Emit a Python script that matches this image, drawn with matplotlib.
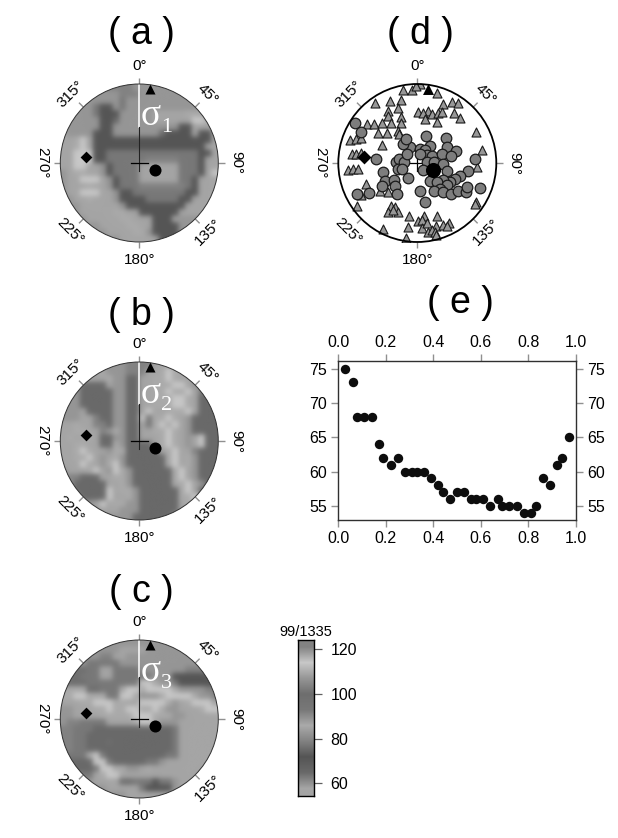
import numpy as np
import matplotlib
matplotlib.use('Agg')
import matplotlib.pyplot as plt
from matplotlib.colors import ListedColormap, Normalize
from matplotlib.patches import Circle

plt.rcParams['font.family'] = ['Liberation Sans', 'DejaVu Sans']

W, H = 618, 838
NET = 238  # net radius in reading units

# colour scale: one grey per band, bottom to top
BAND_GREYS = [165, 105, 85, 130, 170, 120, 110, 150, 200, 130]
BAR_MIN, BAR_MAX = 54.2, 124.2
BAR_TICKS = [60, 80, 100, 120]

# velocity maps, each digit is a band of the colour scale
MAP_A = """
777777 733337 777777 777777
777777 777333 777777 777777
777777 777577 777777 777777
777775 227577 777777 777777
777775 222777 770000 044077
777777 221777 770000 008840
777777 227777 777777 220000
077772 227777 777622 220220
004802 222222 222222 222220
004802 222222 222222 222200
008882 255555 555555 555220
008882 255555 533333 555200
008800 725555 000000 555200
704400 725555 000000 555208
700888 072555 000000 552000
700040 072555 333333 352000
700888 007225 555555 522000
770040 007222 255555 220000
777000 000722 222222 200000
777000 004400 222222 000000
777700 000440 002220 777777
777777 000044 002222 777777
777777 700004 472222 777777
777777 777000 000222 777777
"""

MAP_B = """
777777 777733 330044 000777
777700 477733 300484 007777
777000 047711 004484 007777
777111 107711 004448 807755
777111 117711 004484 480551
777111 117711 004448 840111
777111 117711 004448 840111
777011 117711 080044 480111
777003 117711 854484 071111
004003 317711 054848 071111
004400 374711 004484 071111
040040 117711 000484 070811
004400 114711 110484 070811
004840 074411 111048 003111
004480 704711 111148 047111
000840 748711 111148 047111
700048 078471 111114 807111
733111 004471 111114 807111
771111 100471 111114 480711
771111 180447 111111 480117
777111 180047 111111 448077
777770 804477 111111 048077
777777 000777 111111 007777
777777 777771 111110 077777
"""

MAP_C = """
777777 777777 777777 777777
777777 777000 077777 777777
777777 330077 777777 777777
777755 555777 777777 777777
776655 005555 777777 733377
766555 005555 557772 222227
666655 555555 884775 222222
444466 555488 488884 777733
448844 455884 777488 884773
000448 884400 888847 048880
770004 484488 448477 000488
770000 444448 884447 700000
733555 500004 884777 000000
335551 111111 111115 000000
335511 111111 111115 000000
335511 161111 111115 000000
335511 111111 111115 000000
555548 511111 111155 000000
511118 851111 155700 000000
551115 884477 040000 000000
775550 488000 000000 000077
777770 000665 552557 000777
777777 700000 522227 007777
777777 777700 000000 077777
"""

# fixed symbols on the nets
TRI_XY = (32, 223)
DOT_XY = (48, -21)
DIA_XY = (-160, 18)

# panel d, stations
CIRCLE_X = [75, 92, 80, 117, 138, 158, 165, 155, 193, 195, 200, 235, 198, 207, 222, 205, 215,
            240, 218, 232, 228, 270, 288, 348, 300, 285, 290, 270, 305, 352, 336, 378, 365,
            290, 312, 340, 280, 350, 435, 415, 392, 375, 360, 340, 300, 320, 350, 330, 312,
            338, 365, 385, 408, 412, 450, 270, 285]
CIRCLE_Y = [216, 245, 432, 428, 327, 366, 392, 408, 388, 408, 430, 384, 335, 327, 335, 357, 355,
            290, 280, 310, 265, 297, 258, 262, 288, 300, 315, 310, 318, 290, 310, 303, 318,
            335, 335, 340, 360, 363, 325, 362, 376, 385, 395, 390, 392, 395, 405, 415, 423,
            425, 430, 422, 425, 410, 412, 423, 455]
TRIANGLE_X = [218, 245, 270, 258, 320, 135, 180, 212, 175, 205, 212, 175, 338, 368, 385, 372,
              390, 265, 295, 278, 305, 285, 325, 322, 335, 110, 133, 157, 182, 212, 145, 170,
              205, 60, 78, 93, 155, 207, 65, 78, 92, 52, 68, 82, 438, 458, 443, 107, 93, 150,
              175, 80, 182, 195, 175, 203, 188, 438, 436, 237, 322, 282, 265, 275, 158, 235,
              275, 290, 318, 340, 358, 350, 295, 305, 315, 228, 318]
TRIANGLE_Y = [118, 118, 100, 105, 127, 158, 152, 148, 180, 172, 198, 197, 160, 153, 157, 186,
              202, 185, 182, 188, 190, 205, 188, 215, 185, 222, 222, 218, 218, 218, 248, 248,
              243, 268, 265, 263, 283, 250, 310, 310, 308, 358, 356, 355, 246, 300, 350, 400,
              435, 423, 425, 467, 468, 470, 485, 485, 480, 455, 462, 498, 497, 497, 512, 510,
              537, 532, 535, 520, 527, 525, 518, 528, 545, 540, 545, 563, 555]
CIRCLE_CX, CIRCLE_CY = 262, 338

# panel e
RATIO = [.03, .06, .08, .11, .14, .17, .19, .22, .25, .28, .31, .33, .36, .39, .42, .44, .47, .50,
         .53, .56, .58, .61, .64, .67, .69, .72, .75, .78, .81, .83, .86, .89, .92, .94, .97]
MISFIT = [75, 73, 68, 68, 68, 64, 62, 61, 62, 60, 60, 60, 60, 59, 58, 57, 56, 57,
          57, 56, 56, 56, 55, 56, 55, 55, 55, 54, 54, 55, 59, 58, 61, 62, 65]

AZIMUTHS = [0, 45, 90, 135, 180, 225, 270, 315]
AZ_ROT = [0, -45, -90, 45, 0, -45, -90, 45]

cmap = ListedColormap([(g / 255, g / 255, g / 255) for g in BAND_GREYS])
norm = Normalize(BAR_MIN, BAR_MAX)


def px_axes(fig, left, top, w, h):
    return fig.add_axes([left / W, 1 - (top + h) / H, w / W, h / H])


def decode(text):
    rows = [r.replace(' ', '') for r in text.strip().splitlines()]
    digits = np.array([[int(c) for c in r] for r in rows])
    return BAR_MIN + (digits + 0.5) * (BAR_MAX - BAR_MIN) / len(BAND_GREYS)


def net_frame(ax, lw=0.7, color='#303030'):
    ax.set_xlim(-NET, NET)
    ax.set_ylim(-NET, NET)
    ax.set_aspect('equal')
    ax.axis('off')
    for az, rot in zip(AZIMUTHS, AZ_ROT):
        s, c = np.sin(np.radians(az)), np.cos(np.radians(az))
        ax.plot([NET * s, 1.08 * NET * s], [NET * c, 1.08 * NET * c], color='#909090', lw=1.0,
                clip_on=False, solid_capstyle='butt')
        ax.text(1.23 * NET * s, 1.23 * NET * c, f'{az}°', rotation=rot, rotation_mode='anchor',
                ha='center', va='center', fontsize=11, clip_on=False)
    ax.add_patch(Circle((0, 0), NET, fill=False, ec=color, lw=lw, zorder=6, clip_on=False))


def map_panel(fig, top, field, sub, line_end):
    ax = px_axes(fig, 60.3, top, 158, 158)
    im = ax.imshow(decode(field), cmap=cmap, norm=norm, extent=[-NET, NET, -NET, NET],
                   interpolation='gaussian', interpolation_stage='rgba')
    im.set_clip_path(Circle((0, 0), NET, transform=ax.transData))
    net_frame(ax)
    # meridian and centre cross
    ax.plot([0, 0], [NET, line_end], color='white', lw=1.1, zorder=4)
    ax.plot([0, 0], [line_end, -25], color='#222222', lw=0.8, zorder=4)
    ax.plot([-25, 25], [0, 0], color='black', lw=0.9, zorder=4)
    ax.scatter(*TRI_XY, marker='^', s=52, color='black', zorder=5, linewidths=0)
    ax.scatter(*DOT_XY, marker='o', s=75, color='black', zorder=5, linewidths=0)
    ax.scatter(*DIA_XY, marker='D', s=36, color='black', zorder=5, linewidths=0)
    ax.text(5, 142, 'σ', color='white', family='Liberation Serif', fontsize=27,
            ha='left', va='center', zorder=5)
    ax.text(66, 108, sub, color='white', family='Liberation Serif', fontsize=16,
            ha='left', va='center', zorder=5)


fig = plt.figure(figsize=(W / 100, H / 100), dpi=100)

for label, x, y in [('( a )', 141, 34), ('( b )', 141, 315), ('( c )', 141, 592),
                    ('( d )', 420, 34), ('( e )', 460, 303)]:
    fig.text(x / W, 1 - y / H, label, fontsize=27, ha='center', va='center')

map_panel(fig, 84, MAP_A, '1', 108)
map_panel(fig, 362, MAP_B, '2', 112)
map_panel(fig, 640, MAP_C, '3', 128)

# panel d
ax_d = px_axes(fig, 338.3, 84, 158, 158)
net_frame(ax_d, lw=1.3, color='black')
ax_d.plot([-25, 25], [0, 0], color='black', lw=0.9, zorder=1)
ax_d.plot([0, 0], [-25, 25], color='black', lw=0.9, zorder=1)
ax_d.scatter(np.array(TRIANGLE_X) - CIRCLE_CX, CIRCLE_CY - np.array(TRIANGLE_Y), marker='^', s=42,
             color='#979797', edgecolors='#1a1a1a', linewidths=0.8, zorder=2)
ax_d.scatter(np.array(CIRCLE_X) - CIRCLE_CX, CIRCLE_CY - np.array(CIRCLE_Y), marker='o', s=58,
             color='#7d7d7d', edgecolors='#1a1a1a', linewidths=0.9, zorder=3)
ax_d.scatter(*TRI_XY, marker='^', s=62, color='black', zorder=5, linewidths=0)
ax_d.scatter(*DOT_XY, marker='o', s=118, color='black', zorder=5, linewidths=0)
ax_d.scatter(*DIA_XY, marker='D', s=50, color='black', zorder=5, linewidths=0)

# panel e
ax_e = px_axes(fig, 338.3, 361.3, 237.7, 158.4)
ax_e.scatter(RATIO, MISFIT, s=46, color='#0d0d0d', linewidths=0, clip_on=False, zorder=3)
ax_e.set_xlim(0, 1)
ax_e.set_ylim(53, 76.05)
ax_e.set_xticks([0, .2, .4, .6, .8, 1])
ax_e.set_xticklabels(['0.0', '0.2', '0.4', '0.6', '0.8', '1.0'])
ax_e.set_yticks([55, 60, 65, 70, 75])
ax_e.tick_params(top=True, right=True, labeltop=True, labelright=True, length=5, width=1.0,
                 color='#909090', labelsize=11.5, pad=3)
for spine in ax_e.spines.values():
    spine.set_linewidth(1.0)
    spine.set_color('#303030')

# colour bar
ax_b = px_axes(fig, 298.3, 640, 15.7, 156.3)
bar_vals = BAR_MIN + (np.arange(len(BAND_GREYS))[:, None] + 0.5) * (BAR_MAX - BAR_MIN) / len(BAND_GREYS)
ax_b.imshow(bar_vals, cmap=cmap, norm=norm, origin='lower', aspect='auto',
            extent=[0, 1, BAR_MIN, BAR_MAX], interpolation='bilinear', interpolation_stage='rgba')
ax_b.set_xticks([])
ax_b.yaxis.tick_right()
ax_b.set_yticks(BAR_TICKS)
ax_b.tick_params(axis='y', length=6, width=0.9, color='#606060', labelsize=11.5, pad=6)
for spine in ax_b.spines.values():
    spine.set_linewidth(1.0)
ax_b.set_title('99/1335', fontsize=10.5, pad=3)

fig.savefig('out.png', dpi=100)
